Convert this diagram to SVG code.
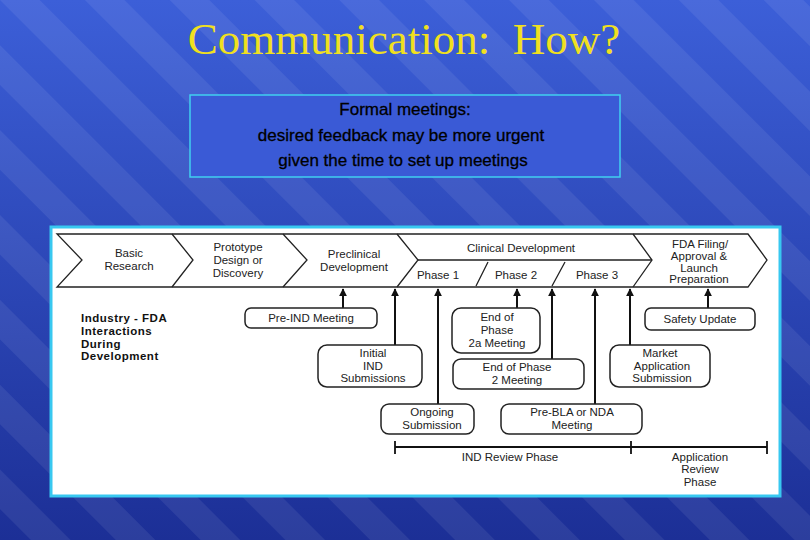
<svg xmlns="http://www.w3.org/2000/svg" width="810" height="540" viewBox="0 0 810 540">
<defs>
<linearGradient id="bg" x1="0" y1="0" x2="0" y2="1">
<stop offset="0" stop-color="#3c5fd8"/><stop offset="1" stop-color="#1c2f96"/>
</linearGradient>
<pattern id="str" width="60" height="60" patternUnits="userSpaceOnUse" patternTransform="rotate(-45)">
<rect width="60" height="60" fill="none"/><rect width="28" height="60" fill="#ffffff" opacity="0.07"/>
</pattern>
<marker id="ah" viewBox="0 0 10 10" refX="9" refY="5" markerWidth="4" markerHeight="4" orient="auto"><path d="M0,0 L10,5 L0,10 Z" fill="#111"/></marker>
<style>
.t{font-family:"Liberation Sans",Arial,sans-serif;font-size:11.5px;fill:#222;text-anchor:middle;stroke:none}
.b{fill:#fff;stroke:#222;stroke-width:1.5}
.l{stroke:#222;stroke-width:1.3;fill:none}
.c line{stroke:#111;stroke-width:2;marker-end:url(#ah)}
</style>
</defs>
<rect width="810" height="540" fill="url(#bg)"/>
<rect width="810" height="540" fill="url(#str)"/>
<text x="404" y="54" xml:space="preserve" font-family="Liberation Serif,serif" font-size="45" fill="#f0e020" text-anchor="middle">Communication:  How?</text>
<g id="note">
<rect x="190" y="95" width="430" height="82" fill="#3a5ad6" stroke="#40d0f0" stroke-width="1.5"/>
<text font-family="Liberation Sans,Arial,sans-serif" font-size="17" fill="#000" text-anchor="middle" stroke="#000" stroke-width="0.3"><tspan x="405" y="115">Formal meetings:</tspan><tspan x="401" y="141">desired feedback may be more urgent</tspan><tspan x="403" y="166">given the time to set up meetings</tspan></text>
</g>
<rect x="51" y="227" width="729" height="269" fill="#fff" stroke="#38c8f0" stroke-width="3"/>
<g id="band">
<path class="l" d="M57,234 L748,234 L767,260 L748,287 L57,287 L82,260 Z" stroke-width="1.8"/>
<path class="l" d="M172,234 L193,260 L172,287 M283,234 L307,260 L283,287 M397,234 L418,260 L397,287 M633,234 L652,260 L633,287" stroke-width="1.8"/>
<path class="l" d="M418,260 L652,260 M488,262 L476,286 M565,262 L552,286"/>
<text class="t"><tspan x="129" y="257">Basic</tspan><tspan x="129" y="270">Research</tspan></text>
<text class="t"><tspan x="238" y="251">Prototype</tspan><tspan x="238" y="264">Design or</tspan><tspan x="238" y="277">Discovery</tspan></text>
<text class="t"><tspan x="354" y="258">Preclinical</tspan><tspan x="354" y="271">Development</tspan></text>
<text class="t" x="521" y="252">Clinical Development</text>
<text class="t" x="438" y="279">Phase 1</text>
<text class="t" x="516" y="279">Phase 2</text>
<text class="t" x="597" y="279">Phase 3</text>
<text class="t"><tspan x="700" y="248">FDA Filing/</tspan><tspan x="699" y="260">Approval &amp;</tspan><tspan x="699" y="272">Launch</tspan><tspan x="699" y="283">Preparation</tspan></text>
</g>
<g id="label" font-family="Liberation Sans,Arial,sans-serif" font-size="11.5" font-weight="bold" fill="#111" letter-spacing="0.5">
<text x="81" y="322">Industry - FDA</text><text x="81" y="335">Interactions</text><text x="81" y="348">During</text><text x="81" y="360">Development</text>
</g>
<g id="connectors" class="c">
<line x1="343" y1="308" x2="343" y2="289"/>
<line x1="395" y1="345" x2="395" y2="289"/>
<line x1="438" y1="404" x2="438" y2="289"/>
<line x1="517" y1="308" x2="517" y2="289"/>
<line x1="552" y1="359" x2="552" y2="289"/>
<line x1="595" y1="404" x2="595" y2="289"/>
<line x1="630" y1="345" x2="630" y2="289"/>
<line x1="708" y1="308" x2="708" y2="289"/>
</g>
<g id="preind"><rect class="b" x="245" y="308" width="132" height="20" rx="6"/><text class="t" x="311" y="322">Pre-IND Meeting</text></g>
<g id="initial"><rect class="b" x="318" y="345" width="104" height="42" rx="9"/><text class="t"><tspan x="373" y="357">Initial</tspan><tspan x="373" y="370">IND</tspan><tspan x="373" y="382">Submissions</tspan></text></g>
<g id="ongoing"><rect class="b" x="381" y="404" width="93" height="30" rx="8"/><text class="t"><tspan x="432" y="416">Ongoing</tspan><tspan x="432" y="429">Submission</tspan></text></g>
<g id="eop2a"><rect class="b" x="452" y="308" width="88" height="45" rx="9"/><text class="t"><tspan x="497" y="321">End of</tspan><tspan x="497" y="334">Phase</tspan><tspan x="497" y="347">2a Meeting</tspan></text></g>
<g id="eop2"><rect class="b" x="453" y="359" width="131" height="30" rx="8"/><text class="t"><tspan x="517" y="371">End of Phase</tspan><tspan x="517" y="384">2 Meeting</tspan></text></g>
<g id="prebla"><rect class="b" x="501" y="404" width="141" height="30" rx="8"/><text class="t"><tspan x="572" y="416">Pre-BLA or NDA</tspan><tspan x="572" y="429">Meeting</tspan></text></g>
<g id="safety"><rect class="b" x="645" y="308" width="110" height="22" rx="6"/><text class="t" x="700" y="323">Safety Update</text></g>
<g id="market"><rect class="b" x="610" y="345" width="100" height="42" rx="9"/><text class="t"><tspan x="660" y="357">Market</tspan><tspan x="662" y="370">Application</tspan><tspan x="662" y="382">Submission</tspan></text></g>
<g id="timeline">
<path d="M395,447 L767,447 M395,441 L395,454 M631,441 L631,454 M767,441 L767,454" stroke="#111" stroke-width="1.8"/>
<text class="t" x="510" y="461">IND Review Phase</text>
<text class="t"><tspan x="700" y="461">Application</tspan><tspan x="700" y="473">Review</tspan><tspan x="700" y="486">Phase</tspan></text>
</g>
</svg>
